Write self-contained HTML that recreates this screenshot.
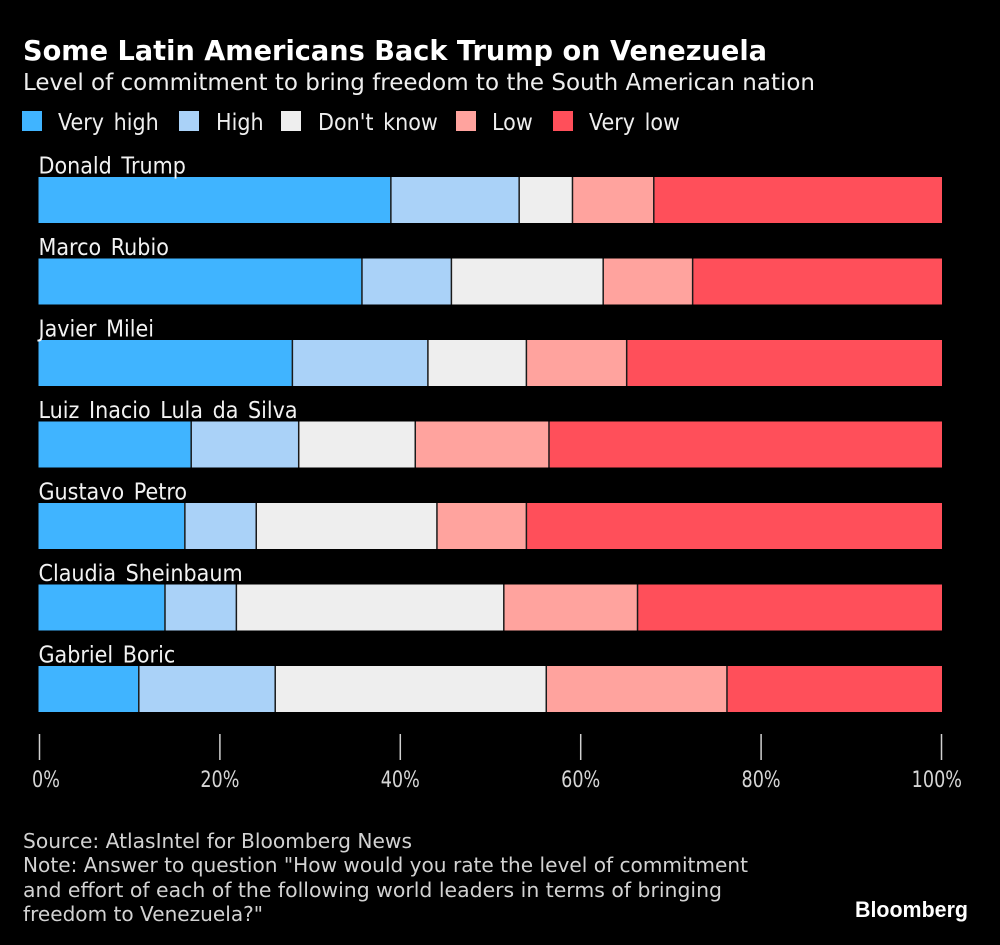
<!DOCTYPE html>
<html>
<head>
<meta charset="utf-8">
<style>
html,body{margin:0;padding:0;background:#000;}
svg{display:block;font-family:"DejaVu Sans","Liberation Sans",sans-serif;}
</style>
</head>
<body>
<svg id="chart" width="1000" height="945" viewBox="0 0 1000 945" xmlns="http://www.w3.org/2000/svg">
<rect width="1000" height="945" fill="#000"/>
<text x="23" y="60" font-size="28" font-weight="700" fill="#fff" textLength="744" lengthAdjust="spacingAndGlyphs">Some Latin Americans Back Trump on Venezuela</text>
<text x="23" y="90" font-size="23.5" fill="#eee" textLength="792" lengthAdjust="spacingAndGlyphs">Level of commitment to bring freedom to the South American nation</text>
<g id="legend"></g>
<g id="bars"></g>
<g id="axis"></g>
<g font-size="20.5" fill="#d2d2d2">
<text x="23" y="848" textLength="389" lengthAdjust="spacingAndGlyphs">Source: AtlasIntel for Bloomberg News</text>
<text x="23" y="872" textLength="725" lengthAdjust="spacingAndGlyphs">Note: Answer to question "How would you rate the level of commitment</text>
<text x="23" y="897" textLength="699" lengthAdjust="spacingAndGlyphs">and effort of each of the following world leaders in terms of bringing</text>
<text x="23" y="921" textLength="240" lengthAdjust="spacingAndGlyphs">freedom to Venezuela?"</text>
</g>
<text x="855" y="917" font-family="'Liberation Sans',sans-serif" font-size="22" font-weight="700" fill="#fff" textLength="113" lengthAdjust="spacingAndGlyphs">Bloomberg</text>
</svg>
<script>
const leaders = ["Donald Trump","Marco Rubio","Javier Milei","Luiz Inacio Lula da Silva","Gustavo Petro","Claudia Sheinbaum","Gabriel Boric"];
const seriesNames = ["Very high","High","Don't know","Low","Very low"];
const seriesColors = ["#40b4ff","#aad2f8","#eeeeee","#ffa39e","#ff4f5a"];
const veryHigh = [39.0,35.8,28.1,16.9,16.2,14.0,11.1];
const high = [14.2,9.9,15.0,11.9,7.9,7.9,15.1];
const dontKnow = [5.9,16.8,10.9,12.9,20.0,29.6,30.0];
const low = [9.0,9.9,11.1,14.8,9.9,14.8,20.0];
const veryLow = [31.9,27.6,34.9,43.5,46.0,33.7,23.8];
const tickValues = [0,20,40,60,80,100];

const NS = "http://www.w3.org/2000/svg";
const series = [veryHigh, high, dontKnow, low, veryLow];
const xScale = v => 38.5 + v * 9.035;
const tickScale = v => 39.5 + v * 9.02;
const yScale = i => 177 + i * 81.5;
const barHeight = 46;
const LABEL_SQUEEZE = 0.9;
const TICK_SQUEEZE = 0.8;
const WORD_GAP = 3;

function make(tag, parent, attrs, text) {
  const el = document.createElementNS(NS, tag);
  for (const k in attrs) el.setAttribute(k, attrs[k]);
  if (text !== undefined) el.textContent = text;
  parent.appendChild(el);
  return el;
}
function squeeze(el, factor, gap) {
  const gaps = (el.textContent.match(/ /g) || []).length;
  const w = el.getComputedTextLength();
  const wordSpace = gap / factor;
  el.setAttribute('word-spacing', wordSpace);
  el.setAttribute('textLength', (w + wordSpace * gaps) * factor);
  el.setAttribute('lengthAdjust', 'spacingAndGlyphs');
  return (w + wordSpace * gaps) * factor;
}

const legend = document.getElementById('legend');
const swatchX = [22,179,281,456,553];
const legendTextX = [58,216,318,492,589];
seriesNames.forEach((name, s) => {
  const g = make('g', legend, {});
  
  
  const sw = make('rect', g, {x: swatchX[s], y: 111, width: 20, height: 20, fill: seriesColors[s]});
  
  
  const t = make('text', g, {x: legendTextX[s], y: 130, 'font-size': 23, fill: '#eee'}, name);
  
  
  squeeze(t, LABEL_SQUEEZE, WORD_GAP);
});

const bars = document.getElementById('bars');
leaders.forEach((leader, i) => {
  const y = yScale(i);
  let cum = 0;
  series.forEach((vals, s) => {
    const x0 = xScale(cum);
    cum += vals[i];
    const x1 = xScale(cum);
    const r = make('rect', bars, {x: x0, y: y, width: x1 - x0, height: barHeight, fill: seriesColors[s]});
    
    
    if (s > 0) {
      const sep = make('rect', bars, {x: x0 - 0.75, y: y, width: 1.5, height: barHeight, fill: '#1a1a1a'});
      
      
    }
  });
  const t = make('text', bars, {x: 38.5, y: y - 3.5, 'font-size': 23, fill: '#f2f2f2'}, leader);
  
  
  squeeze(t, LABEL_SQUEEZE, WORD_GAP);
});

const axis = document.getElementById('axis');
tickValues.forEach(v => {
  const x = tickScale(v);
  const tick = make('line', axis, {x1: x, x2: x, y1: 734, y2: 760, stroke: '#d0d0d0', 'stroke-width': 1.5});
  
  
  const t = make('text', axis, {y: 787, 'font-size': 22, fill: '#d6d6d6'}, v + '%');
  
  
  const w = squeeze(t, TICK_SQUEEZE, 0);
  let left = x - w / 2;
  if (left < 32) left = 32;
  if (left + w > 962) left = 962 - w;
  t.setAttribute('x', left);
});
</script>
</body>
</html>
